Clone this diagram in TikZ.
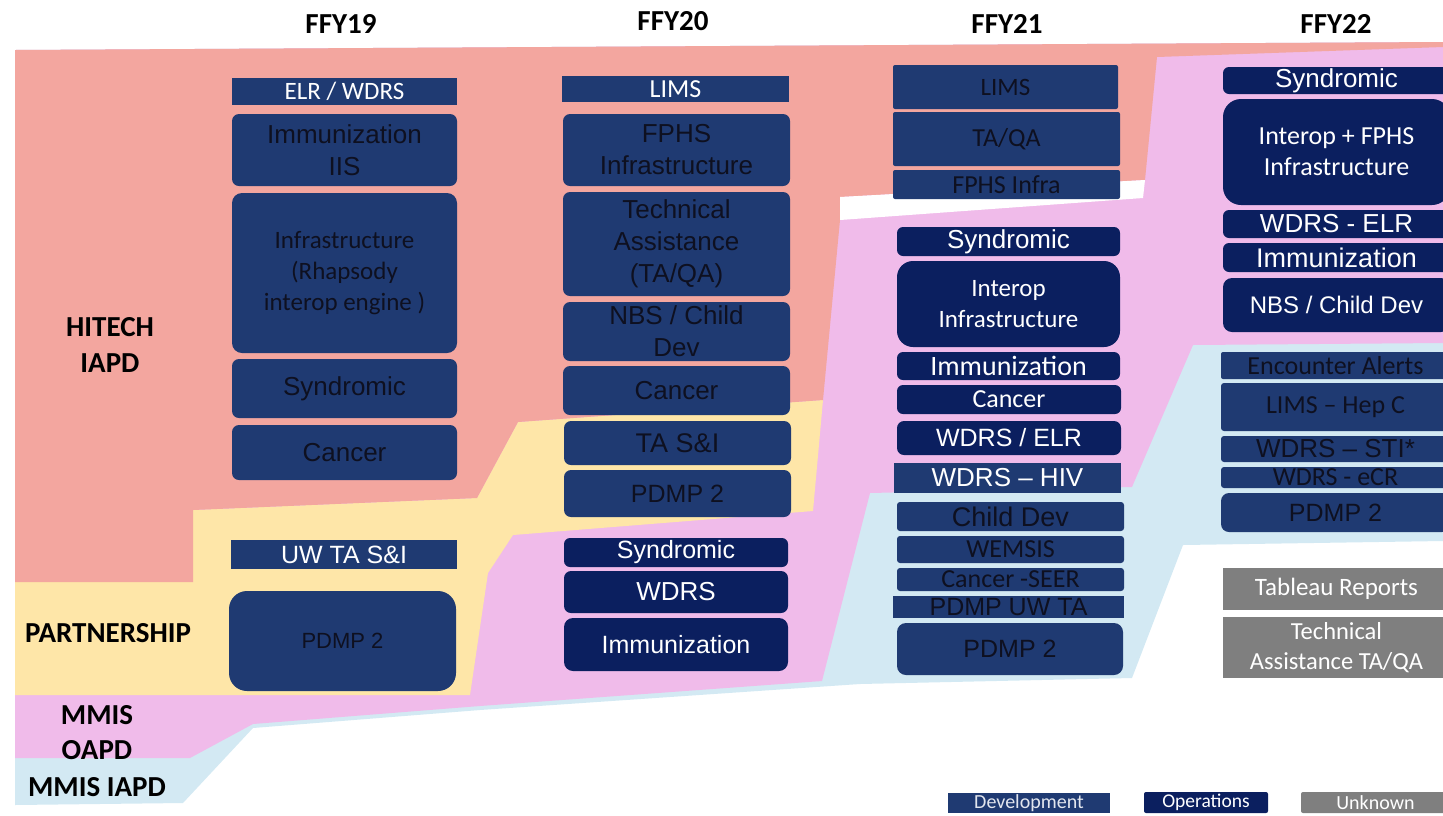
\documentclass[tikz,border=0pt]{standalone}
\usepackage{fontspec}
\setmainfont{Carlito}
\newfontfamily\arialfont{Liberation Sans}

\definecolor{hitechbg}{HTML}{F3A69F}
\definecolor{partnerbg}{HTML}{FEE6A8}
\definecolor{oapdbg}{HTML}{F0BBEA}
\definecolor{iapdbg}{HTML}{D3E9F3}
\definecolor{devblue}{HTML}{1F3A72}
\definecolor{opsblue}{HTML}{0B1F5F}
\definecolor{unkgray}{HTML}{7F7F7F}
\definecolor{darktext}{HTML}{0E1020}
\definecolor{legendtext}{HTML}{E2E6EE}

\tikzset{
  base/.style={inner sep=0pt, outer sep=0pt, align=center},
  dev/.style={base, fill=devblue, text=darktext},
  devw/.style={base, fill=devblue, text=white},
  ops/.style={base, fill=opsblue, text=white},
  unk/.style={base, fill=unkgray, text=white},
  ar/.style={font={\arialfont\fontsize{#1}{32}\selectfont}},
  ar/.default=26,
  cb/.style={font={\fontsize{#1}{31}\selectfont}},
  cb/.default=25,
  rc/.style={rounded corners=#1},
  rc/.default=7pt,
  heading/.style={inner sep=0pt, text=black, font={\bfseries\fontsize{29}{36}\selectfont}, align=center}
}

% box: name, x1, y1, x2, y2, style, text
\newcommand\tbox[7]{%
  \node[#6, minimum width={(#4)-(#2)}, minimum height={(#5)-(#3)}]
    (#1) at ({((#2)+(#4))/2},{((#3)+(#5))/2}) {#7};}

\begin{document}
\begin{tikzpicture}[x=1pt,y=-1pt]
\useasboundingbox (0,0) rectangle (1443,815);
\clip (0,0) rectangle (1443,815);

% funding bands
\fill[iapdbg] (15,50) -- (1443,42) -- (1443,541) -- (1183,545) -- (1132,678)
  -- (860,684) -- (480,710) -- (253,728) -- (183,803) -- (15,805) -- cycle;
\fill[oapdbg] (15,50) -- (1443,42) -- (1443,343) -- (1193,345) -- (1132,487)
  -- (870,493) -- (822,681) -- (480,706) -- (253,724) -- (190,758) -- (15,758) -- cycle;
\fill[partnerbg] (15,582) -- (193,582) -- (193,510) -- (477,498) -- (518,422)
  -- (823,400) -- (813,511) -- (513,535) -- (488,573) -- (470,695) -- (15,695) -- cycle;
\fill[hitechbg] (15,50) -- (1443,42) -- (1443,47) -- (1157,57) -- (1145,180)
  -- (840,197) -- (840,220) -- (823,400) -- (518,422) -- (477,498) -- (193,510)
  -- (193,582) -- (15,582) -- cycle;
\fill[white] (840,197) -- (1145,180) -- (1143,198) -- (840,220) -- cycle;

% year headings
\node[heading] (h19) at (341,24) {FFY19};
\node[heading] (h20) at (673,21) {FFY20};
\node[heading] (h21) at (1007,24) {FFY21};
\node[heading] (h22) at (1336,24) {FFY22};

% band labels
\node[heading] (lhitech) at (110,345) {HITECH\\IAPD};
\node[heading] (lpartner) at (108,633) {PARTNERSHIP};
\node[heading, font={\bfseries\fontsize{29}{35}\selectfont}] (loapd) at (97,733) {MMIS\\OAPD};
\node[heading] (liapd) at (97,787) {MMIS IAPD};

% FFY19
\tbox{a1}{232}{78}{457}{105}{devw, cb}{ELR / WDRS}
\tbox{a2}{232}{114}{457}{186}{dev, rc, ar}{Immunization\\IIS}
\tbox{a3}{232}{193}{457}{353}{dev, rc=10pt, cb}{Infrastructure\\(Rhapsody\\interop engine )}
\tbox{a4}{232}{359}{457}{418}{dev, rc, ar}{Syndromic}
\tbox{a5}{232}{425}{457}{480}{dev, rc, ar}{Cancer}
\tbox{a6}{231}{540}{457}{569}{devw, ar=25}{UW TA S\&I}
\tbox{a7}{229}{591}{456}{691}{dev, rc=18pt, ar=22}{PDMP 2}

% FFY20
\tbox{b1}{562}{76}{789}{102}{devw, cb=26}{LIMS}
\tbox{b2}{563}{114}{790}{186}{dev, rc, ar}{FPHS\\Infrastructure}
\tbox{b3}{563}{192}{790}{296}{dev, rc, ar}{Technical\\Assistance\\(TA/QA)}
\tbox{b4}{563}{302}{790}{361}{dev, rc, ar}{NBS / Child\\Dev}
\tbox{b5}{563}{366}{790}{415}{dev, rc, ar}{Cancer}
\tbox{b6}{564}{421}{791}{465}{dev, rc, ar=27}{TA S\&I}
\tbox{b7}{564}{470}{791}{517}{dev, rc, ar=25}{PDMP 2}
\tbox{b8}{564}{538}{788}{567}{ops, rc=6pt, ar=25}{Syndromic}
\tbox{b9}{564}{571}{788}{613}{ops, rc, ar}{WDRS}
\tbox{b10}{564}{618}{788}{671}{ops, rc=9pt, ar=25}{Immunization}

% FFY21
\tbox{c1}{893}{65}{1118}{109}{dev, rc=2pt, cb}{LIMS}
\tbox{c2}{893}{112}{1120}{166}{dev, rc=2pt, cb=26}{TA/QA}
\tbox{c3}{893}{170}{1120}{199}{dev, rc=2pt, cb=26}{FPHS Infra}
\tbox{c4}{897}{227}{1120}{256}{ops, rc=6pt, ar}{Syndromic}
\tbox{c5}{897}{261}{1120}{347}{ops, rc=16pt, cb}{Interop\\Infrastructure}
\tbox{c6}{897}{352}{1120}{380}{ops, rc=6pt, cb=28}{Immunization}
\tbox{c7}{897}{385}{1121}{414}{ops, rc=6pt, cb=26}{Cancer}
\tbox{c8}{897}{421}{1121}{455}{ops, rc, ar=25}{WDRS / ELR}
\tbox{c9}{894}{463}{1121}{493}{devw, ar}{WDRS – HIV}
\tbox{c10}{897}{502}{1124}{531}{dev, rc=3pt, ar=27}{Child Dev}
\tbox{c11}{897}{536}{1124}{563}{dev, rc=3pt, cb=26}{WEMSIS}
\tbox{c12}{897}{568}{1124}{591}{dev, rc=3pt, cb=26}{Cancer -SEER}
\tbox{c13}{893}{596}{1124}{618}{dev, ar=25}{PDMP UW TA}
\tbox{c14}{897}{623}{1123}{675}{dev, rc=9pt, ar=25}{PDMP 2}

% FFY22
\tbox{d1}{1223}{67}{1450}{94}{ops, rc=6pt, ar}{Syndromic}
\tbox{d2}{1223}{99}{1450}{205}{ops, rc=18pt, cb=26}{Interop + FPHS\\Infrastructure}
\tbox{d3}{1223}{210}{1450}{238}{ops, rc=6pt, ar}{WDRS - ELR}
\tbox{d4}{1223}{243}{1450}{272}{ops, rc=6pt, ar=27}{Immunization}
\tbox{d5}{1223}{278}{1450}{332}{ops, rc=9pt, ar=24}{NBS / Child Dev}
\tbox{d6}{1221}{352}{1450}{379}{dev, rc=2pt, cb=26}{Encounter Alerts}
\tbox{d7}{1221}{383}{1450}{431}{dev, rc=3pt, cb=26}{LIMS – Hep C}
\tbox{d8}{1221}{436}{1450}{462}{dev, rc=3pt, ar=26}{WDRS – STI*}
\tbox{d9}{1221}{467}{1450}{488}{dev, rc=3pt, cb=26}{WDRS - eCR}
\tbox{d10}{1221}{493}{1450}{532}{dev, rc=8pt, ar=25}{PDMP 2}
\tbox{d11}{1223}{568}{1450}{610}{unk, cb}{Tableau Reports}
\tbox{d12}{1223}{617}{1450}{678}{unk, font={\fontsize{24.5}{30}\selectfont}}{Technical\\Assistance TA/QA}

% legend
\tbox{kdev}{948}{793}{1110}{813}{base, fill=devblue, text=legendtext, font={\fontsize{20}{22}\selectfont}}{Development}
\tbox{kops}{1144}{792}{1268}{813}{ops, rc=2pt, font={\fontsize{19.5}{22}\selectfont}}{Operations}
\tbox{kunk}{1301}{792}{1450}{813}{unk, rc=2pt, font={\fontsize{20}{22}\selectfont}}{Unknown}

\end{tikzpicture}
\end{document}
